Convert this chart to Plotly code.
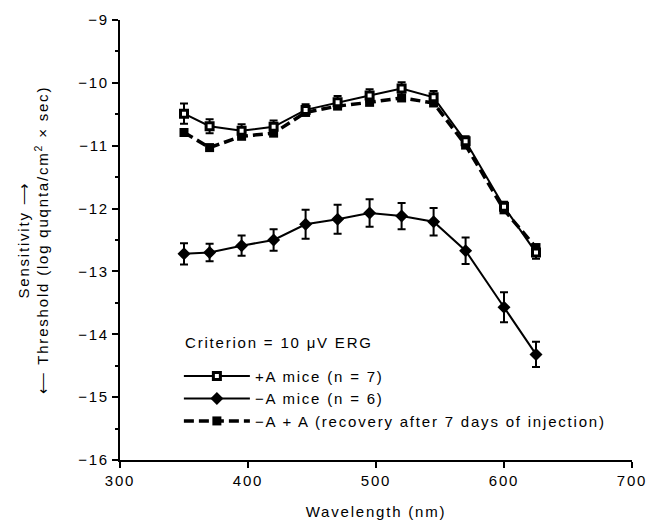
import plotly.graph_objects as go

wavelength = [350, 370, 395, 420, 445, 470, 495, 520, 545, 570, 600, 625]

plus_a = [-10.49, -10.69, -10.76, -10.70, -10.43, -10.31, -10.20, -10.09, -10.23, -10.93, -11.97, -12.70]
plus_a_err = [0.16, 0.11, 0.10, 0.10, 0.09, 0.10, 0.10, 0.10, 0.10, 0.08, 0.08, 0.10]

minus_a = [-12.72, -12.70, -12.59, -12.50, -12.25, -12.17, -12.07, -12.12, -12.21, -12.67, -13.57, -14.32]
minus_a_err = [0.17, 0.14, 0.16, 0.17, 0.23, 0.23, 0.22, 0.21, 0.22, 0.21, 0.24, 0.20]

recovery = [-10.79, -11.03, -10.85, -10.80, -10.47, -10.37, -10.31, -10.24, -10.32, -10.99, -12.02, -12.62]

x_ticks = [300, 400, 500, 600, 700]
y_ticks = [-16, -15, -14, -13, -12, -11, -10, -9]
y_ticktext = ["\u2212" + str(abs(v)) for v in y_ticks]

names = ["+A mice (n = 7)", "\u2212A mice (n = 6)", "\u2212A + A (recovery after 7 days of injection)"]

FONT = "Arial, Liberation Sans, Helvetica, sans-serif"
FS = 15

fig = go.Figure()

fig.add_trace(go.Scatter(
    x=wavelength, y=recovery, name=names[2], mode="lines+markers",
    line=dict(color="black", width=3.5, dash="10px,5px"),
    marker=dict(symbol="square", size=9, color="black"),
    legendrank=3,
))
fig.add_trace(go.Scatter(
    x=wavelength, y=plus_a, name=names[0], mode="lines+markers",
    line=dict(color="black", width=2),
    marker=dict(symbol="square", size=7, color="white", line=dict(color="black", width=3)),
    error_y=dict(type="data", array=plus_a_err, color="black", thickness=2, width=4),
    legendrank=1,
))
fig.add_trace(go.Scatter(
    x=wavelength, y=minus_a, name=names[1], mode="lines+markers",
    line=dict(color="black", width=2),
    marker=dict(symbol="diamond", size=10, color="black"),
    error_y=dict(type="data", array=minus_a_err, color="black", thickness=2, width=4),
    legendrank=2,
))

fig.add_annotation(
    text="Criterion = 10 \u03bcV ERG", xref="paper", yref="paper",
    x=0.123, y=0.268, xanchor="left", yanchor="middle", align="left", showarrow=False,
    font=dict(family=FONT, size=FS, color="black"),
)

fig.update_layout(
    width=647, height=521, autosize=False,
    margin=dict(l=120, r=15, t=20, b=61, autoexpand=False),
    paper_bgcolor="white", plot_bgcolor="white",
    font=dict(family=FONT, size=FS, color="black"),
    showlegend=True,
    legend=dict(
        x=0.115, y=0.228, xanchor="left", yanchor="top",
        bgcolor="rgba(0,0,0,0)", font=dict(family=FONT, size=FS, color="black"),
        itemwidth=66, tracegroupgap=0,
    ),
    xaxis=dict(
        range=[300, 700], tickvals=x_ticks, showgrid=False, zeroline=False,
        showline=True, linecolor="black", linewidth=2, automargin=False,
        ticks="outside", ticklen=6, tickwidth=2, tickcolor="black",
        tickfont=dict(size=FS),
        title=dict(text="Wavelength (nm)", font=dict(size=FS), standoff=18),
    ),
    yaxis=dict(
        range=[-16, -9], tickvals=y_ticks, ticktext=y_ticktext, showgrid=False, zeroline=False,
        showline=True, linecolor="black", linewidth=2, automargin=False,
        ticks="outside", ticklen=6, tickwidth=2, tickcolor="black",
        tickfont=dict(size=FS),
        minor=dict(dtick=0.5, tick0=-16, ticks="outside", ticklen=3, tickwidth=2, tickcolor="black", showgrid=False),
        title=dict(
            text="Sensitivity \u27f6<br>\u27f5 Threshold (log quqnta/cm<sup>2</sup> \u00d7 sec)",
            font=dict(size=FS), standoff=31,
        ),
    ),
)

post = """
document.body.style.margin = '0';
document.body.style.overflow = 'hidden';
var st = document.createElement('style');
st.textContent = '.main-svg text { letter-spacing: 1.8px; } .legend .scrollbox { clip-path: none !important; }';
document.head.appendChild(st);
"""

fig.write_html("out.html", post_script=post,
               config={"responsive": False, "displayModeBar": False})
